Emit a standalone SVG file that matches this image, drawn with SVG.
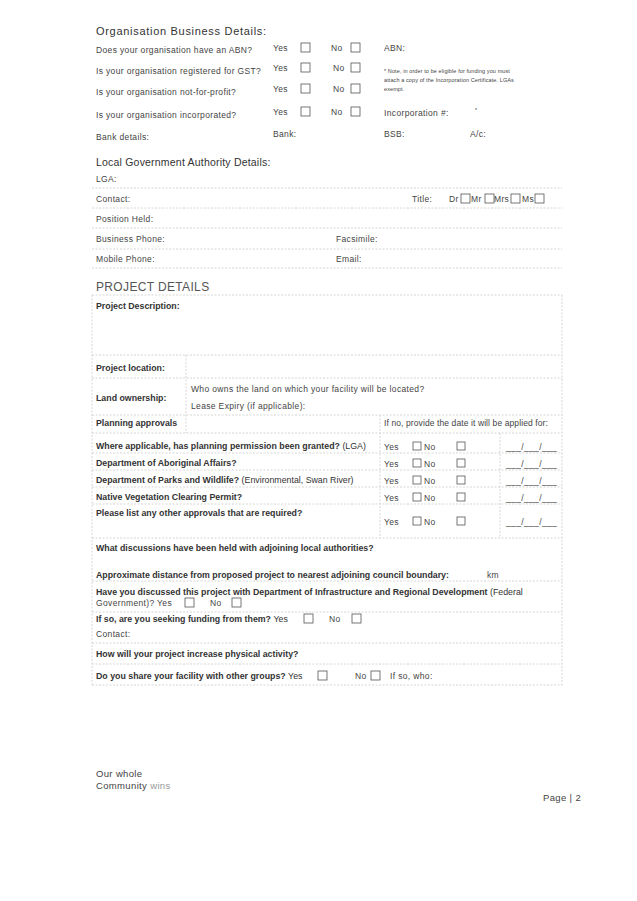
<svg xmlns="http://www.w3.org/2000/svg" width="637" height="901" viewBox="0 0 637 901">
<style>
text{font-family:"Liberation Sans",Arial,sans-serif;fill:#444;font-size:8.5px;letter-spacing:0.35px}
.h{font-size:10.5px;fill:#333;letter-spacing:0.2px}
.h1{font-size:11px;letter-spacing:0.7px}
.b{font-weight:bold;fill:#333;font-size:8.8px;letter-spacing:0px}
.s{font-size:5.5px;letter-spacing:0.1px}
.ln{stroke:#ccc;stroke-width:0.8;stroke-dasharray:2 1.5;fill:none}
.bx{fill:#fff;stroke:#555;stroke-width:0.8}
</style>
<rect width="637" height="901" fill="#fff"/>
<g id="org">
<text class="h h1" x="96" y="35">Organisation Business Details:</text>
<text x="96" y="53">Does your organisation have an ABN?</text>
<text x="96" y="74">Is your organisation registered for GST?</text>
<text x="96" y="95">Is your organisation not-for-profit?</text>
<text x="96" y="118">Is your organisation incorporated?</text>
<text x="96" y="140">Bank details:</text>
<text x="273" y="51">Yes</text><rect class="bx" x="301" y="43" width="9" height="9"/>
<text x="331" y="51">No</text><rect class="bx" x="351" y="43" width="9" height="9"/>
<text x="273" y="71">Yes</text><rect class="bx" x="301" y="63" width="9" height="9"/>
<text x="333" y="71">No</text><rect class="bx" x="351" y="63" width="9" height="9"/>
<text x="273" y="92">Yes</text><rect class="bx" x="301" y="84" width="9" height="9"/>
<text x="333" y="92">No</text><rect class="bx" x="351" y="84" width="9" height="9"/>
<text x="273" y="115">Yes</text><rect class="bx" x="301" y="107" width="9" height="9"/>
<text x="331" y="115">No</text><rect class="bx" x="351" y="107" width="9" height="9"/>
<text x="384" y="51">ABN:</text>
<text class="s" x="384" y="73">* Note, in order to be eligible for funding you must</text>
<text class="s" x="384" y="82">attach a copy of the Incorporation Certificate. LGAs</text>
<text class="s" x="384" y="91">exempt.</text>
<text x="384" y="116">Incorporation #:</text><text class="s" x="475" y="112">*</text>
<text x="273" y="137">Bank:</text><text x="384" y="137">BSB:</text><text x="470" y="137">A/c:</text>
</g>
<g id="lga">
<text class="h" x="96" y="166">Local Government Authority Details:</text>
<text x="96" y="182">LGA:</text>
<text x="96" y="202">Contact:</text>
<text x="412" y="202">Title:</text>
<text x="449" y="202">Dr</text><rect class="bx" x="461" y="194" width="9" height="9"/>
<text x="471" y="202">Mr</text><rect class="bx" x="485" y="194" width="9" height="9"/>
<text x="494" y="202">Mrs</text><rect class="bx" x="511" y="194" width="9" height="9"/>
<text x="522" y="202">Ms</text><rect class="bx" x="535" y="194" width="9" height="9"/>
<text x="96" y="222">Position Held:</text>
<text x="96" y="242">Business Phone:</text><text x="336" y="242">Facsimile:</text>
<text x="96" y="262">Mobile Phone:</text><text x="336" y="262">Email:</text>
</g>
<g id="project">
<text x="96" y="291" style="font-size:12px;fill:#555">PROJECT DETAILS</text>
<text class="b" x="96" y="309">Project Description:</text>
<text class="b" x="96" y="371">Project location:</text>
<text class="b" x="96" y="401">Land ownership:</text>
<text x="191" y="392">Who owns the land on which your facility will be located?</text>
<text x="191" y="409">Lease Expiry (if applicable):</text>
<text class="b" x="96" y="426">Planning approvals</text>
<text x="384" y="426" style="letter-spacing:0.1px">If no, provide the date it will be applied for:</text>
<text class="b" x="96" y="449">Where applicable, has planning permission been granted? <tspan font-weight="normal">(LGA)</tspan></text>
<text class="b" x="96" y="466">Department of Aboriginal Affairs?</text>
<text class="b" x="96" y="483">Department of Parks and Wildlife? <tspan font-weight="normal">(Environmental, Swan River)</tspan></text>
<text class="b" x="96" y="500">Native Vegetation Clearing Permit?</text>
<text class="b" x="96" y="516">Please list any other approvals that are required?</text>
<g id="yn">
<text x="384" y="450">Yes</text><rect class="bx" x="413" y="442" width="8" height="8"/><text x="424" y="450">No</text><rect class="bx" x="457" y="442" width="8" height="8"/><text x="506" y="450">___/___/___</text>
<text x="384" y="467">Yes</text><rect class="bx" x="413" y="459" width="8" height="8"/><text x="424" y="467">No</text><rect class="bx" x="457" y="459" width="8" height="8"/><text x="506" y="467">___/___/___</text>
<text x="384" y="484">Yes</text><rect class="bx" x="413" y="476" width="8" height="8"/><text x="424" y="484">No</text><rect class="bx" x="457" y="476" width="8" height="8"/><text x="506" y="484">___/___/___</text>
<text x="384" y="501">Yes</text><rect class="bx" x="413" y="493" width="8" height="8"/><text x="424" y="501">No</text><rect class="bx" x="457" y="493" width="8" height="8"/><text x="506" y="501">___/___/___</text>
<text x="384" y="525">Yes</text><rect class="bx" x="413" y="517" width="8" height="8"/><text x="424" y="525">No</text><rect class="bx" x="457" y="517" width="8" height="8"/><text x="506" y="525">___/___/___</text>
</g>
<text class="b" x="96" y="551">What discussions have been held with adjoining local authorities?</text>
<text class="b" x="96" y="578">Approximate distance from proposed project to nearest adjoining council boundary:</text>
<text x="487" y="578">km</text>
<text class="b" x="96" y="595">Have you discussed this project with Department of Infrastructure and Regional Development <tspan font-weight="normal">(Federal</tspan></text>
<text x="96" y="606">Government)?  Yes</text><rect class="bx" x="185" y="598" width="9" height="9"/>
<text x="210" y="606">No</text><rect class="bx" x="232" y="598" width="9" height="9"/>
<text class="b" x="96" y="622">If so, are you seeking funding from them? <tspan font-weight="normal">Yes</tspan></text><rect class="bx" x="304" y="614" width="9" height="9"/>
<text x="329" y="622">No</text><rect class="bx" x="352" y="614" width="9" height="9"/>
<text x="96" y="637">Contact:</text>
<text class="b" x="96" y="657">How will your project increase physical activity?</text>
<text class="b" x="96" y="679">Do you share your facility with other groups? <tspan font-weight="normal">Yes</tspan></text><rect class="bx" x="318" y="671" width="9" height="9"/>
<text x="355" y="679">No</text><rect class="bx" x="371" y="671" width="9" height="9"/>
<text x="390" y="679">If so, who:</text>
</g>
<g id="connectors">
<path class="ln" d="M92 188H562M92 208H562M92 228H562M92 249H562M92 268H562"/>
<path class="ln" d="M92 295H562M92 355H562M92 378H562M92 415H562M92 433H562M92 453H562M92 470H562M92 487H562M92 504H562M92 538H562M92 581H562M92 612H562M92 643H562M92 664H562M92 685H562"/>
<path class="ln" d="M92 295V685M562 295V685M186 355V433M380 415V538M500 433V538"/>
</g>
<g id="footer">
<text x="96" y="777" style="font-size:9.5px">Our whole</text>
<text x="96" y="789" style="font-size:9.5px">Community <tspan fill="#999">wins</tspan></text>
<text x="543" y="801" style="font-size:9.5px">Page | 2</text>
</g>
</svg>
